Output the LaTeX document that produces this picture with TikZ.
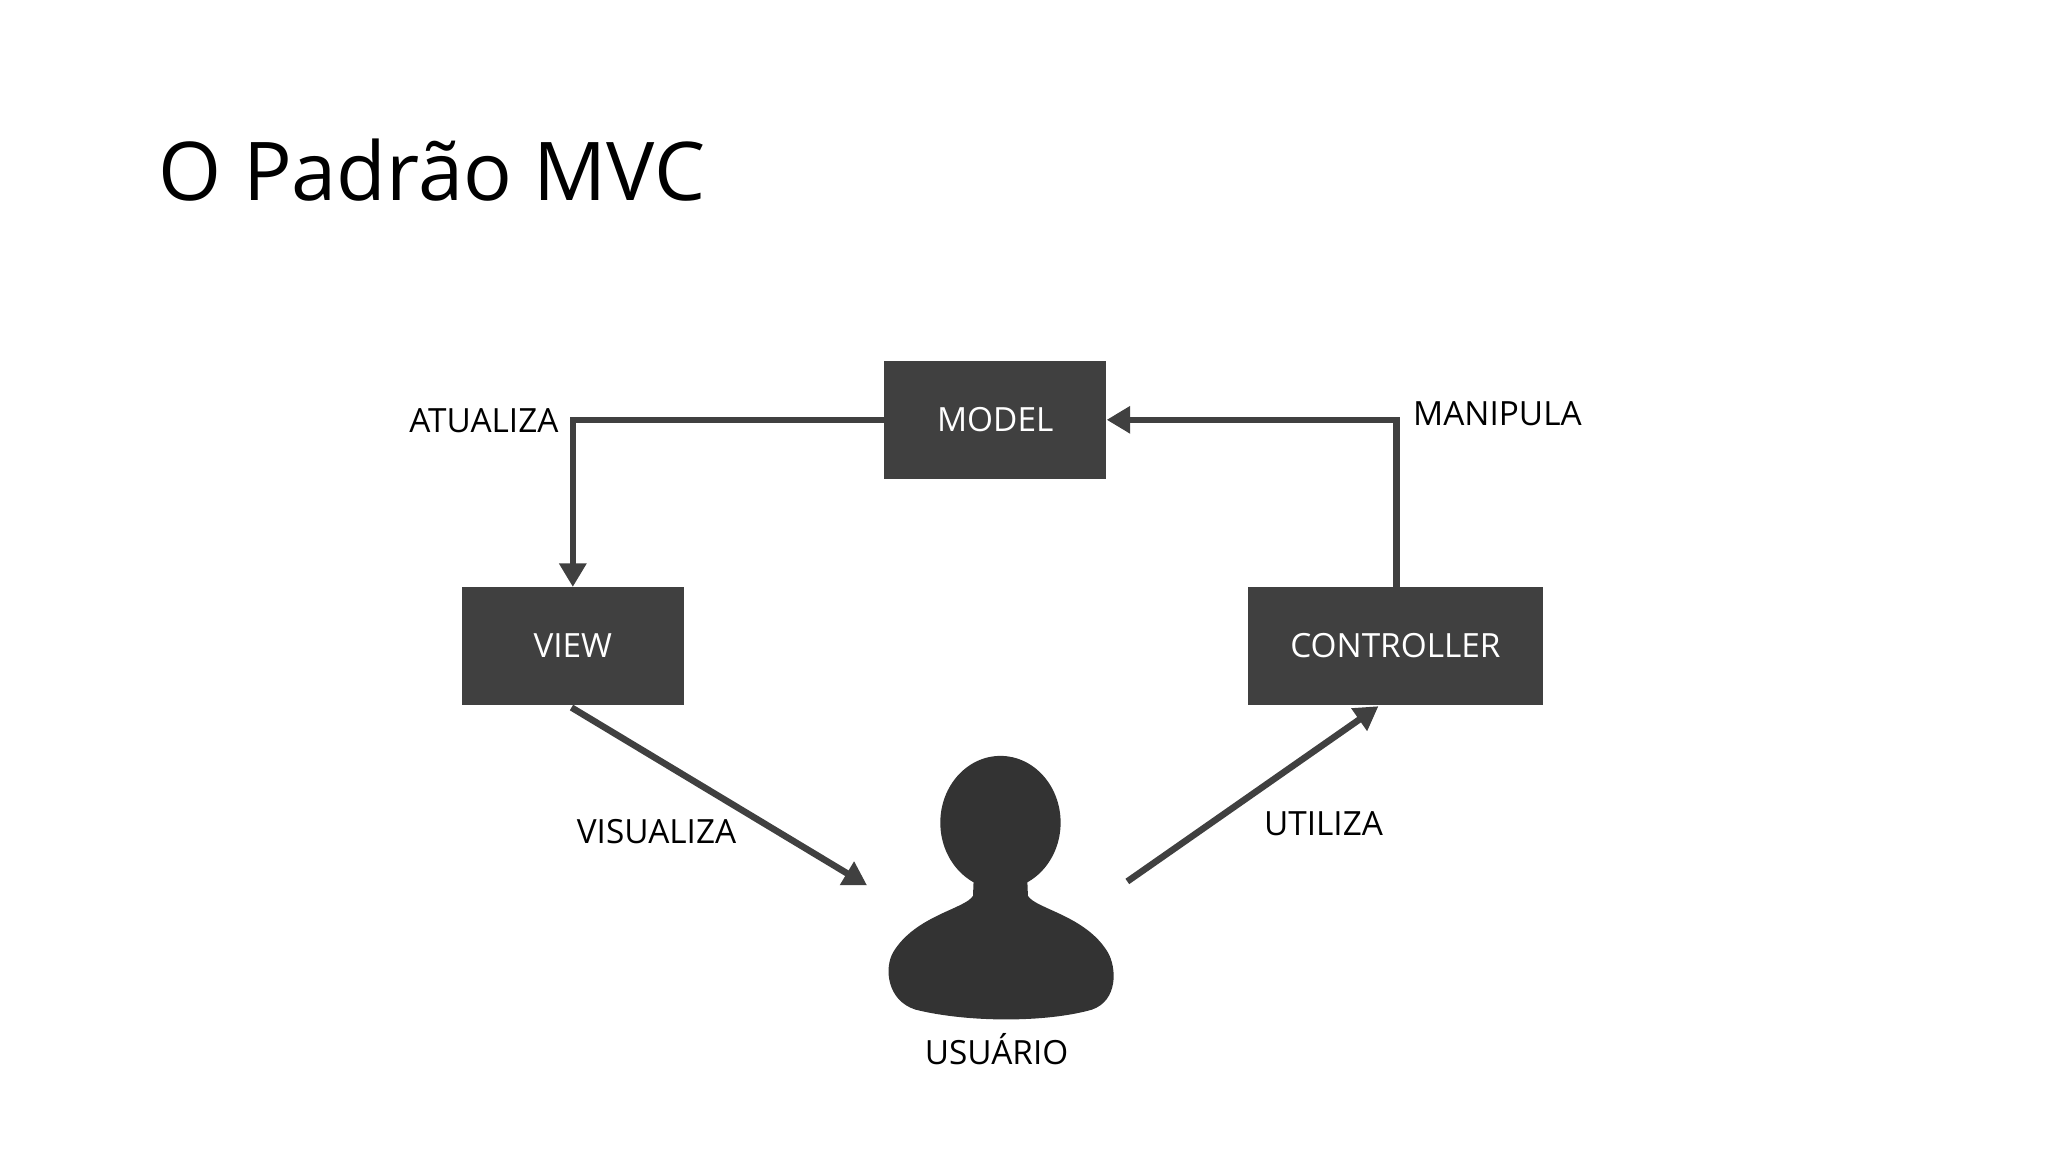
\documentclass[tikz,border=0pt]{standalone}
\usepackage{fontspec}
\setmainfont{Open Sans}
\usetikzlibrary{arrows.meta}
\definecolor{boxc}{HTML}{404040}
\definecolor{pc}{HTML}{333333}
\begin{document}
\begin{tikzpicture}[x=1pt,y=-1pt,
 box/.style={fill=boxc,text=white,minimum height=90pt,inner sep=0pt,font=\fontsize{25.5}{30}\selectfont},
 lbl/.style={font=\fontsize{25.5}{30}\selectfont,text=black},
 conn/.style={draw=boxc,line width=5pt,-{Triangle[length=18pt,width=20pt]}}]
\useasboundingbox (0,0) rectangle (1566,880.9);
\node[anchor=base west,font=\fontsize{62}{70}\selectfont] (title) at (118,153) {O Padrão MVC};
\node[box,minimum width=170pt] (model) at (761,321) {MODEL};
\node[box,minimum width=170pt] (view) at (438,494) {VIEW};
\node[box,minimum width=226pt] (ctrl) at (1067,494) {CONTROLLER};
\coordinate (vs) at (437,541);
\coordinate (ue) at (663,677);
\coordinate (us) at (862,674);
\coordinate (ce) at (1054,540);
\draw[conn] (model.west) -| (view.north);
\draw[conn] (ctrl.north -| 1068,0) |- (model.east);
\draw[conn] (vs) -- (ue);
\draw[conn] (us) -- (ce);
% user
\fill[pc] (765,629) ellipse [x radius=46, y radius=51];
\fill[pc] (745,660) -- (744,685) .. controls (738,695) and (700,700) .. (683,728)
  .. controls (676,740) and (678,765) .. (700,772)
  .. controls (740,782) and (800,782) .. (835,772)
  .. controls (855,765) and (854,740) .. (847,728)
  .. controls (830,700) and (792,695) .. (786,685) -- (785,660) -- cycle;
\node[lbl] (usr) at (762,802) {USUÁRIO};
\node[lbl] (atu) at (370,322) {ATUALIZA};
\node[lbl] (man) at (1145,316) {MANIPULA};
\node[lbl] (vis) at (502,636) {VISUALIZA};
\node[lbl] (uti) at (1012,630) {UTILIZA};
\end{tikzpicture}
\end{document}
